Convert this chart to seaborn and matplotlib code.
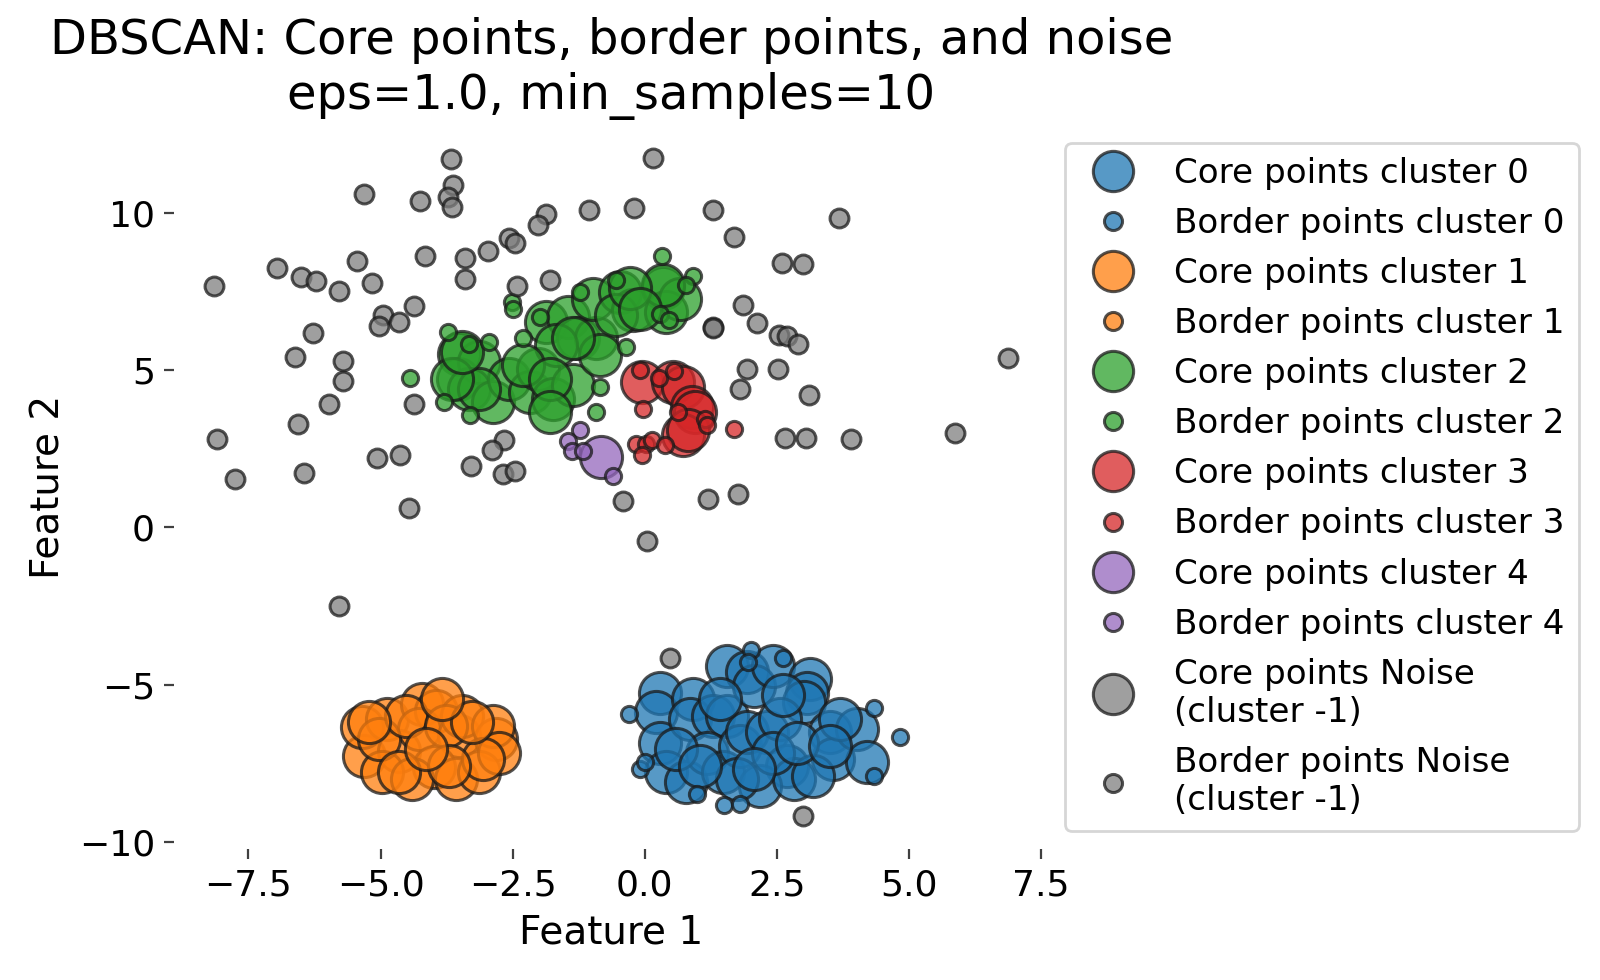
import numpy as np
import pandas as pd
import matplotlib
matplotlib.use("Agg")
import matplotlib.pyplot as plt
from matplotlib.lines import Line2D
import seaborn as sns

# 클러스터별 좌표
core_0 = [(0.28, -5.25), (0.22, -5.88), (0.28, -6.84), (0.41, -7.79), (0.79, -8.11),
          (0.92, -5.46), (0.85, -6.10), (1.30, -5.99), (1.55, -5.99), (1.17, -7.16),
          (1.49, -7.79), (1.80, -6.95), (1.93, -6.52), (1.55, -4.40), (1.93, -4.61),
          (2.06, -5.03), (2.43, -4.40), (3.13, -4.82), (3.07, -5.25), (3.01, -5.56),
          (2.31, -6.52), (2.69, -7.58), (2.18, -8.22), (2.82, -8.01), (3.51, -6.52),
          (3.57, -7.37), (4.02, -6.41), (4.21, -7.47), (3.19, -7.90), (2.56, -6.10),
          (1.74, -8.01), (1.42, -5.46), (3.70, -6.10), (0.60, -7.05), (2.43, -7.16),
          (2.88, -6.84), (1.04, -7.58), (2.06, -7.68), (2.62, -5.32), (3.51, -6.95)]
border_0 = [(-0.30, -5.94), (-0.09, -7.67), (0.00, -7.47), (0.98, -8.48), (1.50, -8.83),
            (1.80, -8.78), (2.02, -3.89), (1.96, -4.27), (2.62, -4.15), (4.33, -5.75),
            (4.84, -6.66), (4.33, -7.90)]

core_1 = [(-5.31, -7.26), (-5.35, -6.36), (-4.87, -6.10), (-4.65, -7.10), (-4.21, -5.62),
          (-3.95, -5.83), (-4.27, -6.41), (-3.51, -6.63), (-3.45, -5.99), (-2.81, -6.73),
          (-2.88, -6.31), (-3.98, -7.63), (-4.97, -7.79), (-4.40, -8.01), (-3.57, -8.01),
          (-3.13, -7.79), (-2.75, -7.16), (-5.03, -6.73), (-4.52, -5.99), (-3.76, -6.31),
          (-3.07, -7.37), (-5.22, -6.20), (-3.26, -6.20), (-4.65, -7.79), (-3.70, -7.58),
          (-4.14, -7.05), (-3.83, -5.46)]
border_1 = []

core_2 = [(-3.51, 5.53), (-3.54, 4.73), (-3.13, 5.26), (-3.32, 4.41), (-2.88, 3.99),
          (-2.56, 4.73), (-2.18, 4.31), (-2.02, 5.05), (-1.74, 4.10), (-1.36, 4.52),
          (-1.87, 6.54), (-1.46, 6.70), (-1.27, 6.01), (-0.92, 6.01), (-0.85, 5.47),
          (-1.68, 5.79), (-0.98, 7.28), (-0.47, 7.49), (-0.22, 6.91), (0.35, 7.60),
          (0.41, 6.86), (0.66, 7.28), (-2.31, 5.16), (-3.13, 4.41), (-1.80, 4.73),
          (-0.54, 6.75), (-3.64, 4.73), (-3.45, 5.58), (-1.36, 6.01), (-1.80, 3.67),
          (0.35, 7.70), (-0.28, 7.60), (-0.09, 6.96)]
border_2 = [(0.32, 8.64), (0.91, 8.00), (0.79, 7.70), (-0.54, 7.86), (-1.23, 7.49),
            (0.28, 6.80), (0.46, 6.59), (-1.99, 6.70), (-2.51, 7.18), (-2.50, 6.96),
            (-2.31, 6.01), (-0.35, 5.74), (-0.85, 4.47), (-0.92, 3.67), (-3.72, 6.22),
            (-3.32, 5.82), (-2.94, 5.90), (-3.80, 3.99), (-3.30, 3.59), (-4.44, 4.75)]

core_3 = [(-0.06, 4.63), (0.54, 4.63), (0.73, 4.47), (0.89, 3.83), (0.95, 3.67),
          (0.73, 2.93), (0.82, 3.09)]
border_3 = [(-0.09, 5.00), (0.27, 4.75), (0.56, 4.98), (-0.04, 3.78), (0.63, 3.67),
            (1.14, 3.46), (1.17, 3.27), (1.68, 3.14), (-0.16, 2.66), (0.02, 2.66),
            (0.13, 2.77), (-0.06, 2.29), (0.38, 2.63)]

core_4 = [(-0.82, 2.24)]
border_4 = [(-1.23, 3.09), (-1.46, 2.74), (-1.37, 2.42), (-1.16, 2.43), (-0.61, 1.64)]

noise = [(-3.66, 11.72), (-3.63, 10.89), (-3.73, 10.50), (-3.64, 10.18), (-5.31, 10.60),
         (-4.26, 10.39), (-1.86, 9.96), (-2.02, 9.63), (-1.05, 10.10), (-0.20, 10.15),
         (-2.57, 9.22), (-2.45, 9.05), (-2.97, 8.80), (-3.40, 8.56), (-4.15, 8.63),
         (-5.45, 8.49), (-6.96, 8.24), (-6.50, 7.98), (-6.23, 7.83), (-5.79, 7.51),
         (-5.17, 7.77), (-8.15, 7.67), (-3.40, 7.91), (-2.42, 7.68), (-1.80, 7.88),
         (-4.36, 7.04), (-4.96, 6.77), (-5.02, 6.40), (-4.66, 6.54), (-6.28, 6.17),
         (-6.61, 5.43), (-5.71, 5.30), (-5.71, 4.66), (-5.98, 3.93), (-4.37, 3.92),
         (-6.56, 3.30), (-8.10, 2.82), (-7.76, 1.55), (-6.45, 1.73), (-5.06, 2.21),
         (-4.63, 2.30), (-4.46, 0.62), (-2.67, 2.78), (-2.90, 2.47), (-3.28, 1.94),
         (-2.68, 1.70), (-2.45, 1.80), (-0.42, 0.85), (0.15, 11.74), (1.30, 10.09),
         (3.67, 9.83), (1.69, 9.25), (2.59, 8.40), (2.99, 8.39), (1.85, 7.08),
         (1.30, 6.38), (1.29, 6.35), (2.13, 6.49), (2.54, 6.11), (2.69, 6.09),
         (2.90, 5.84), (6.88, 5.40), (1.93, 5.05), (2.52, 5.03), (1.80, 4.39),
         (3.11, 4.22), (2.66, 2.84), (3.06, 2.84), (3.90, 2.82), (5.88, 3.01),
         (1.20, 0.91), (1.77, 1.07), (0.04, -0.43), (-5.78, -2.50), (0.48, -4.15),
         (3.00, -9.17)]

cores = [core_0, core_1, core_2, core_3, core_4]
borders = [border_0, border_1, border_2, border_3, border_4]

colors = sns.color_palette("tab10")
cluster_colors = [colors[0], colors[1], colors[2], colors[3], colors[4]]
noise_color = colors[7]

sns.set_theme(style="white")
plt.rcParams['font.family'] = ['DejaVu Sans']
plt.rcParams['text.color'] = 'black'
plt.rcParams['axes.labelcolor'] = 'black'
plt.rcParams['xtick.color'] = 'black'
plt.rcParams['ytick.color'] = 'black'

fig, ax = plt.subplots(figsize=(8, 4.9), dpi=200)
fig.subplots_adjust(left=0.109, right=0.655, bottom=0.134, top=0.872)

kw = dict(edgecolor='k', linewidth=1.1, alpha=0.75, ax=ax, legend=False)
for k in range(5):
    c = pd.DataFrame(cores[k], columns=['x', 'y'])
    if len(c):
        sns.scatterplot(data=c, x='x', y='y', color=cluster_colors[k], s=230, **kw)
    b = pd.DataFrame(borders[k], columns=['x', 'y'])
    if len(b):
        sns.scatterplot(data=b, x='x', y='y', color=cluster_colors[k], s=34, **kw)
nz = pd.DataFrame(noise, columns=['x', 'y'])
sns.scatterplot(data=nz, x='x', y='y', color=noise_color, s=46, **kw)

# 범례 (수동)
handles, labels = [], []
for k in range(5):
    for name, ms in [('Core', 14.5), ('Border', 6.5)]:
        handles.append(Line2D([], [], ls='', marker='o', markersize=ms, markerfacecolor=cluster_colors[k],
                              markeredgecolor='k', markeredgewidth=1.1, alpha=0.75))
        labels.append(f'{name} points cluster {k}')
for name, ms in [('Core', 14.5), ('Border', 6.5)]:
    handles.append(Line2D([], [], ls='', marker='o', markersize=ms, markerfacecolor=noise_color,
                          markeredgecolor='k', markeredgewidth=1.1, alpha=0.75))
    labels.append(f'{name} points Noise\n(cluster -1)')
ax.legend(handles, labels, loc='center left', bbox_to_anchor=(1.0, 0.5), fontsize=12.3)

ax.set_title('DBSCAN: Core points, border points, and noise\neps=1.0, min_samples=10', fontsize=17.3)
ax.set_xlabel('Feature 1', fontsize=14)
ax.set_ylabel('Feature 2', fontsize=14)
ax.tick_params(axis='both', which='major', labelsize=13, left=True, bottom=True,
               length=3.5, width=0.8, color='.25')
for sp in ax.spines.values():
    sp.set_visible(False)

plt.savefig('out.png', dpi=200)
